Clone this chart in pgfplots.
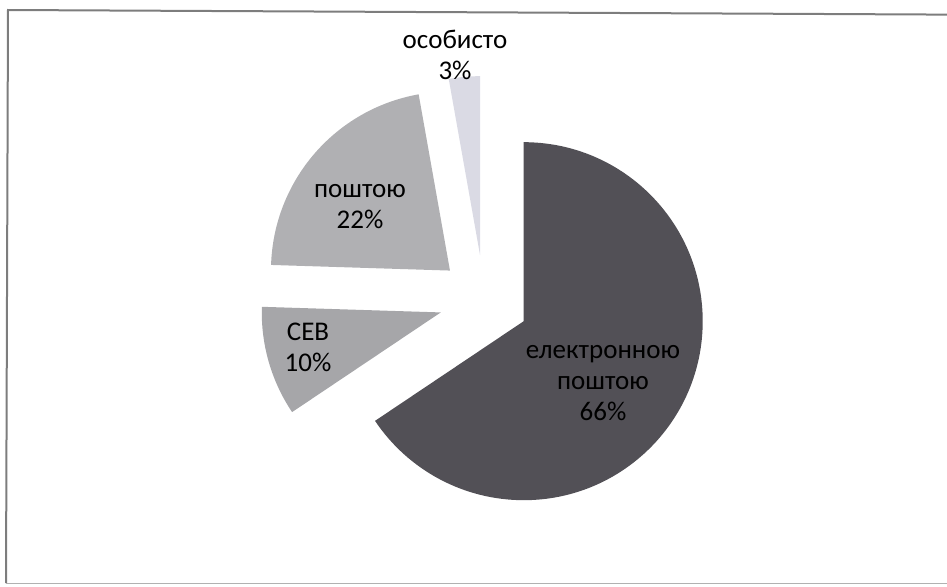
\documentclass[border=0pt]{standalone}
\usepackage{pgfplots}
\usepackage{pgfplotstable}
\pgfplotsset{compat=1.18}
\usepackage{fontspec}
\setmainfont{Carlito}
\definecolor{cA}{RGB}{82,80,86}
\definecolor{cB}{RGB}{166,166,169}
\definecolor{cC}{RGB}{176,176,179}
\definecolor{cD}{RGB}{218,218,228}
\definecolor{frame}{RGB}{125,125,125}

\pgfplotstableread{
share
65.6
9.9
21.7
2.8
}\piedata

\begin{document}
\begin{tikzpicture}
\useasboundingbox (0,0) rectangle (473.5pt,293pt);
% read shares
\pgfplotstablegetelem{0}{share}\of\piedata \let\vA\pgfplotsretval
\pgfplotstablegetelem{1}{share}\of\piedata \let\vB\pgfplotsretval
\pgfplotstablegetelem{2}{share}\of\piedata \let\vC\pgfplotsretval
\pgfplotstablegetelem{3}{share}\of\piedata \let\vD\pgfplotsretval
% geometry (1 axis unit = 1pt)
\def\cx{242}\def\cy{143}\def\r{89.5}\def\d{22.5}
\pgfmathsetmacro\sA{90}
\pgfmathsetmacro\eA{\sA-3.6*\vA}
\pgfmathsetmacro\eB{\eA-3.6*\vB}
\pgfmathsetmacro\eC{\eB-3.6*\vC}
\pgfmathsetmacro\eD{\eC-3.6*\vD}
\pgfmathsetmacro\mA{(\sA+\eA)/2}
\pgfmathsetmacro\mB{(\eA+\eB)/2}
\pgfmathsetmacro\mC{(\eB+\eC)/2}
\pgfmathsetmacro\mD{(\eC+\eD)/2}
\pgfmathsetmacro\xA{\cx+\d*cos(\mA)}\pgfmathsetmacro\yA{\cy+\d*sin(\mA)}
\pgfmathsetmacro\xB{\cx+\d*cos(\mB)}\pgfmathsetmacro\yB{\cy+\d*sin(\mB)}
\pgfmathsetmacro\xC{\cx+\d*cos(\mC)}\pgfmathsetmacro\yC{\cy+\d*sin(\mC)}
\pgfmathsetmacro\xD{\cx+\d*cos(\mD)}\pgfmathsetmacro\yD{\cy+\d*sin(\mD)}
\begin{axis}[
  x=1pt, y=1pt,
  xmin=0, xmax=473.5, ymin=0, ymax=293,
  hide axis, clip=false,
  anchor=south west, at={(0,0)},
]
\fill[cA] (axis cs:\xA,\yA) -- ++(\sA:\r pt) arc[start angle=\sA, end angle=\eA, radius=\r pt] -- cycle;
\fill[cB] (axis cs:\xB,\yB) -- ++(\eA:\r pt) arc[start angle=\eA, end angle=\eB, radius=\r pt] -- cycle;
\fill[cC] (axis cs:\xC,\yC) -- ++(\eB:\r pt) arc[start angle=\eB, end angle=\eC, radius=\r pt] -- cycle;
\fill[cD] (axis cs:\xD,\yD) -- ++(\eC:\r pt) arc[start angle=\eC, end angle=\eD, radius=\r pt] -- cycle;
\begin{scope}[every node/.style={align=center, font=\fontsize{13.5}{15.5}\selectfont, text=black}]
\node at (axis cs:301.5,101.5) {електронною\\поштою\\66\%};
\node at (axis cs:154,119.5) {СЕВ\\10\%};
\node at (axis cs:180,189.5) {поштою\\22\%};
\node at (axis cs:227.5,265.5) {особисто\\3\%};
\end{scope}
\end{axis}
\draw[frame, line width=1pt] (473.5pt,285.7pt) -- (4pt,288pt) -- (3pt,1.5pt);
\draw[frame!60, line width=0.8pt] (3pt,1.2pt) -- (473.5pt,1.2pt);
\end{tikzpicture}
\end{document}
